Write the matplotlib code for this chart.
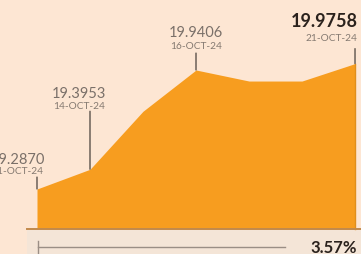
import numpy as np
import matplotlib
matplotlib.use('Agg')
import matplotlib.pyplot as plt
from matplotlib.patches import Rectangle

# NAV data
dates = ['11-OCT-24', '14-OCT-24', '15-OCT-24', '16-OCT-24',
         '17-OCT-24', '18-OCT-24', '21-OCT-24']
nav = [19.2870, 19.3953, 19.714, 19.9406, 19.880, 19.880, 19.9758]
labelled = [0, 1, 3, 6]

bg = '#fde6d3'
orange = '#f79d1f'
grey = '#857a71'
dark = '#2b221d'

plt.rcParams['font.family'] = ['Lato', 'DejaVu Sans']
fig = plt.figure(figsize=(3.61, 2.55), dpi=100)
fig.patch.set_facecolor(bg)
ax = fig.add_axes([0, 0, 1, 1])
ax.set_facecolor(bg)
ax.axis('off')

x = np.arange(len(nav))
base = 19.0673
ax.fill_between(x, nav, base, color=orange, lw=0, zorder=2)
ax.plot([x[-1], x[-1]], [base, nav[-1]], color='#e08f1c', lw=1, zorder=3)
ax.set_xlim(-0.698, 6.113)
ax.set_ylim(18.930, 20.3306)

# baseline and lower band
ax.add_patch(Rectangle((27/361, 0), 1, 24/255, transform=ax.transAxes,
                       color='#f4e5d7', lw=0, zorder=1))
ax.plot([27/361, 1], [25/255, 25/255], transform=ax.transAxes,
        color='#c28a4c', lw=1.4, zorder=3)

# value / date labels with leader lines
# (dx, line, date dy, value dy) in points
offs = {0: (-14, 8.6, 13, 21.6),
        1: (-8, 41.8, 46, 54.7),
        3: (0, 12.2, 18, 27.4),
        6: (2, 10.8, 18.7, 31)}
for i in labelled:
    dx, ln, dd, vd = offs[i]
    ax.annotate('', xy=(x[i], nav[i]), xytext=(0, ln), textcoords='offset points',
                arrowprops=dict(arrowstyle='-', color='#4a423c', lw=0.9,
                                shrinkA=0, shrinkB=0), zorder=4)
    ha = 'right' if i == len(nav) - 1 else 'center'
    ax.annotate(dates[i], xy=(x[i], nav[i]), xytext=(dx, dd),
                textcoords='offset points', ha=ha, va='center',
                fontsize=7.3, color=grey)
    if i == len(nav) - 1:
        ax.annotate('%.4f' % nav[i], xy=(x[i], nav[i]), xytext=(dx, vd),
                    textcoords='offset points', ha=ha, va='center',
                    fontsize=13, color=dark, fontweight='bold')
    else:
        ax.annotate('%.4f' % nav[i], xy=(x[i], nav[i]), xytext=(dx, vd),
                    textcoords='offset points', ha=ha, va='center',
                    fontsize=10.5, color='#7a7069')

# change bar
chg = (nav[-1] / nav[0] - 1) * 100
yb = 1 - 248/255
ax.plot([38/361, 285/361], [yb, yb], transform=ax.transAxes,
        color='#9a8e85', lw=1, zorder=3)
ax.plot([38/361, 38/361], [1 - 242/255, 1 - 254/255], transform=ax.transAxes,
        color='#9a8e85', lw=1, zorder=3)
ax.text(357/361, yb, '%.2f%%' % chg, transform=ax.transAxes, ha='right',
        va='center', fontsize=12, fontweight='bold', color=dark)

fig.savefig('out.png', dpi=100, facecolor=bg)
